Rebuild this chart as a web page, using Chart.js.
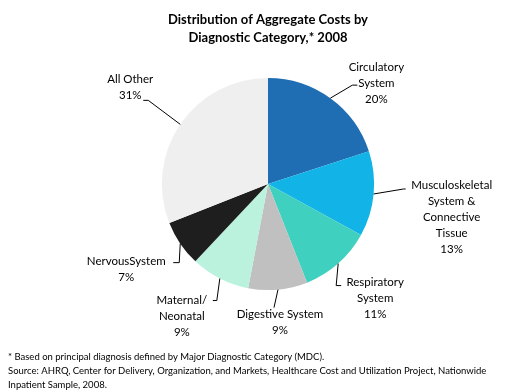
<!DOCTYPE html>
<html>
<head>
<meta charset="utf-8">
<script src="https://cdn.jsdelivr.net/npm/chart.js@4/dist/chart.umd.min.js"></script>
<style>
  body { margin: 0; background: #fff; }
  #wrap { width: 530px; height: 392px; }
</style>
</head>
<body>
<div id="wrap"><canvas id="myChart" width="530" height="392"></canvas></div>
<script>
const categories = [
  ['Circulatory', 'System'],
  ['Musculoskeletal', 'System &', 'Connective', 'Tissue'],
  ['Respiratory', 'System'],
  ['Digestive System'],
  ['Maternal/', 'Neonatal'],
  ['NervousSystem'],
  ['All Other']
];
const percents = [20, 13, 11, 9, 9, 7, 31];
const colores = ['#1f6db2', '#12b4e8', '#3fd0c0', '#c0c0c0', '#baf2dd', '#1e1e1e', '#efefef'];

// where each label sits relative to the slice edge (text, elbow, end of leader)
const labelOffsets = [
  { tx: 46, ty: -31, ex: 22, ey: -13, fx: 27, fy: -13 },
  { tx: 78, ty: -9, ex: 30, ey: -5, fx: 32, fy: -5 },
  { tx: 37, ty: 19, ex: -2, ey: 22, fx: 3, fy: 22 },
  { tx: 2, ty: 25, ex: -4, ey: 18, fx: -4, fy: 18 },
  { tx: -38, ty: 22, ex: -3, ey: 22, fx: -7, fy: 22 },
  { tx: -54, ty: 18, ex: -1, ey: 19, fx: -7, fy: 19 },
  { tx: -50, ty: -45, ex: -32, ey: -24, fx: -37, fy: -24 }
];

const etiquetas = {
  id: 'etiquetas',
  afterDatasetsDraw(chart) {
    const ctx = chart.ctx;
    const arcs = chart.getDatasetMeta(0).data;
    ctx.save();
    ctx.font = '11.5px Lato';
    ctx.fillStyle = '#000';
    ctx.strokeStyle = '#000';
    ctx.lineWidth = 1;
    ctx.textAlign = 'center';
    ctx.textBaseline = 'middle';
    arcs.forEach((arc, i) => {
      const p = arc.getProps(['x', 'y', 'startAngle', 'endAngle', 'outerRadius'], true);
      const mid = (p.startAngle + p.endAngle) / 2;
      const ax = p.x + Math.cos(mid) * p.outerRadius;
      const ay = p.y + Math.sin(mid) * p.outerRadius;
      const o = labelOffsets[i];
      ctx.beginPath();
      ctx.moveTo(ax, ay);
      ctx.lineTo(ax + o.ex, ay + o.ey);
      ctx.lineTo(ax + o.fx, ay + o.fy);
      ctx.stroke();
      const lines = categories[i].concat([percents[i] + '%']);
      lines.forEach((t, k) => {
        ctx.fillText(t, ax + o.tx, ay + o.ty + k * 16);
      });
    });
    ctx.restore();
  }
};

new Chart(document.getElementById('myChart'), {
  type: 'pie',
  data: {
    labels: categories.map(c => c.join(' ')),
    datasets: [{
      data: percents,
      backgroundColor: colores,
      borderWidth: 0
    }]
  },
  options: {
    responsive: false,
    animation: false,
    layout: { padding: { left: 8, right: 2, top: 0, bottom: 0 } },
    plugins: {
      legend: { display: false },
      tooltip: { enabled: false },
      title: {
        display: true,
        text: ['Distribution of Aggregate Costs by', 'Diagnostic Category,* 2008'],
        color: '#000',
        font: { family: 'Lato', size: 13, weight: 'bold', lineHeight: 1.38 },
        padding: { top: 11, bottom: 31 }
      },
      subtitle: {
        display: true,
        position: 'bottom',
        align: 'start',
        text: [
          '* Based on principal diagnosis defined by Major Diagnostic Category (MDC).',
          'Source: AHRQ, Center for Delivery, Organization, and Markets, Healthcare Cost and Utilization Project, Nationwide',
          'Inpatient Sample, 2008.'
        ],
        color: '#000',
        font: { family: 'Lato', size: 9.5, lineHeight: 1.47 },
        padding: { top: 60, bottom: 0 }
      }
    }
  },
  plugins: [etiquetas]
});
</script>
</body>
</html>
